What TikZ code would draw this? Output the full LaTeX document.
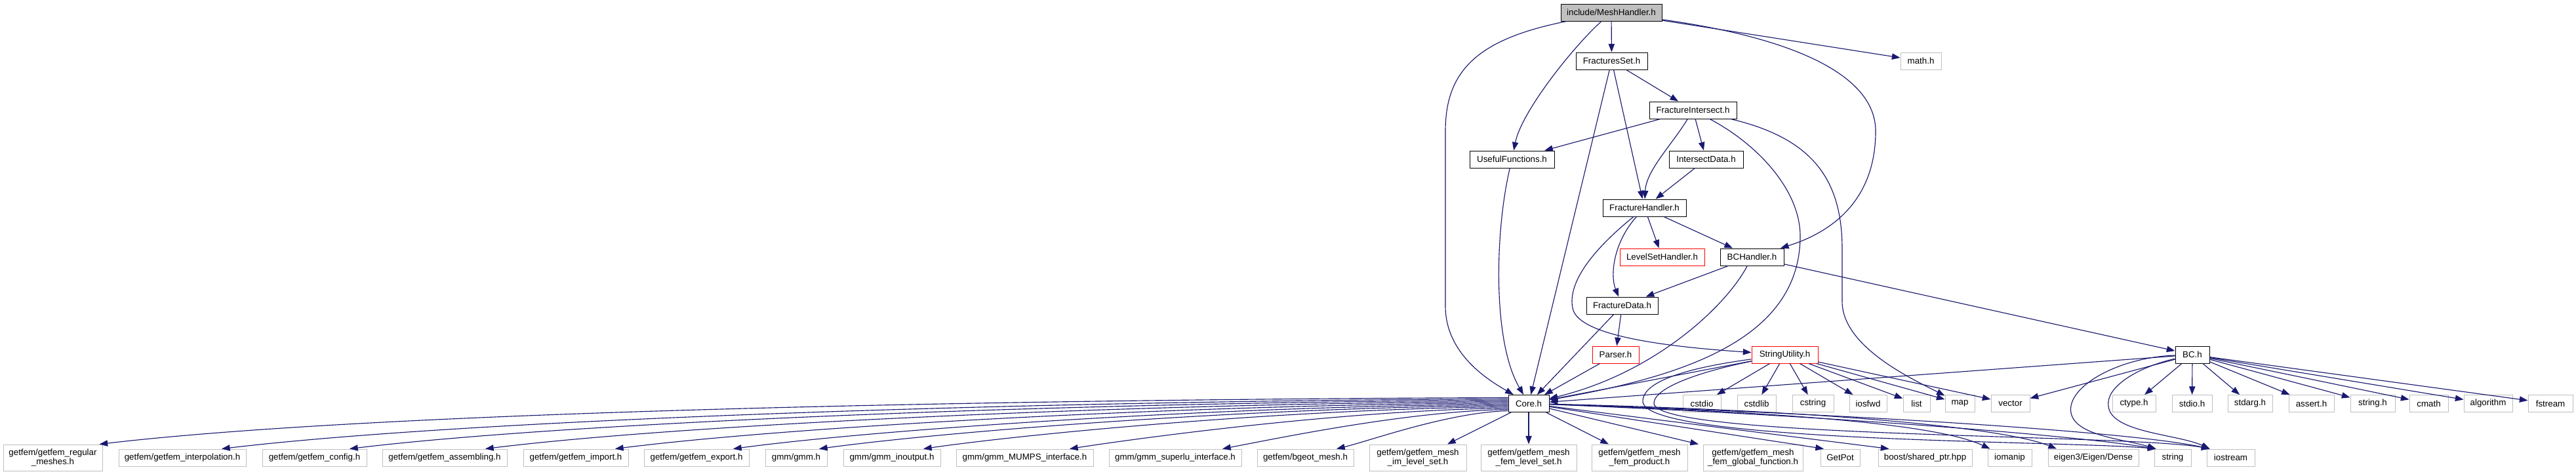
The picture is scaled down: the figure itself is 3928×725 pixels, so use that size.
\documentclass[tikz,border=0pt]{standalone}
\usepackage{fontspec}
\setmainfont{Liberation Sans}
\usetikzlibrary{arrows.meta,calc}
\definecolor{edgeblue}{HTML}{191970}
\definecolor{extgray}{HTML}{BFBFBF}
\tikzset{
  nb/.style={rectangle, inner sep=1pt, font=\fontsize{10}{11}\selectfont, align=center, fill=white, line width=0.75pt},
  docbox/.style={nb, draw=black},
  extbox/.style={nb, draw=extgray},
  redbox/.style={nb, draw=red},
  rootbox/.style={nb, draw=black, fill=extgray},
  sz/.style 2 args={minimum width=#1*0.75pt, minimum height=#2*0.75pt},
  edge/.style={draw=edgeblue, line width=0.85pt, -{Triangle[length=9.5pt,width=7pt]}},
}
\begin{document}
\begin{tikzpicture}[x=0.75pt,y=-0.75pt]
\fill[white] (0,0) rectangle (3928,725);
\useasboundingbox (0,0) rectangle (3928,725);

% ---- project headers
\node[rootbox, sz={154}{26}] (mesh) at (2457,19) {include/MeshHandler.h};
\node[docbox, sz={109}{26}] (fset) at (2457.5,93) {FracturesSet.h};
\node[extbox, sz={62}{26}] (math) at (2929,93) {math.h};
\node[docbox, sz={133}{26}] (fint) at (2581.5,168) {FractureIntersect.h};
\node[docbox, sz={129}{26}] (useful) at (2305.5,243) {UsefulFunctions.h};
\node[docbox, sz={113}{26}] (idata) at (2601.5,243) {IntersectData.h};
\node[docbox, sz={127}{26}] (fhand) at (2507.5,317) {FractureHandler.h};
\node[redbox, sz={129}{26}] (lset) at (2534.5,392) {LevelSetHandler.h};
\node[docbox, sz={97}{26}] (bch) at (2671.5,392) {BCHandler.h};
\node[docbox, sz={109}{26}] (fdata) at (2473.5,466) {FractureData.h};
\node[redbox, sz={71}{26}] (parser) at (2463.5,541) {Parser.h};
\node[redbox, sz={101}{26}] (sutil) at (2721.5,541) {StringUtility.h};
\node[docbox, sz={52}{26}] (bc) at (3343,541) {BC.h};
\node[docbox, sz={62}{26}] (core) at (2331,615.5) {Core.h};

% ---- system headers, middle row
\node[extbox, sz={58}{26}] (cstdio) at (2595,615.5) {cstdio};
\node[extbox, sz={59}{26}] (cstdlib) at (2678.5,615.5) {cstdlib};
\node[extbox, sz={63}{26}] (cstring) at (2764.5,615.5) {cstring};
\node[extbox, sz={57}{26}] (iosfwd) at (2848.5,615.5) {iosfwd};
\node[extbox, sz={41}{26}] (list) at (2922.5,615.5) {list};
\node[extbox, sz={45}{26}] (map) at (2988.5,615.5) {map};
\node[extbox, sz={59}{26}] (vector) at (3065.5,615.5) {vector};
\node[extbox, sz={66}{26}] (ctype) at (3254,615.5) {ctype.h};
\node[extbox, sz={61}{26}] (stdio) at (3342.5,615.5) {stdio.h};
\node[extbox, sz={68}{26}] (stdarg) at (3431,615.5) {stdarg.h};
\node[extbox, sz={69}{26}] (assert) at (3524.5,615.5) {assert.h};
\node[extbox, sz={68}{26}] (stringh) at (3618,615.5) {string.h};
\node[extbox, sz={59}{26}] (cmath) at (3703.5,615.5) {cmath};
\node[extbox, sz={74}{26}] (algorithm) at (3794,615.5) {algorithm};
\node[extbox, sz={68}{26}] (fstream) at (3889,615.5) {fstream};

% ---- bottom row
\node[extbox, sz={151}{40}] (regmesh) at (80.5,698) {getfem/getfem\_regular\\\_meshes.h};
\node[extbox, sz={194}{26}] (interp) at (278,698) {getfem/getfem\_interpolation.h};
\node[extbox, sz={159}{26}] (config) at (479.5,698) {getfem/getfem\_config.h};
\node[extbox, sz={190}{26}] (assem) at (678,698) {getfem/getfem\_assembling.h};
\node[extbox, sz={160}{26}] (import) at (878,698) {getfem/getfem\_import.h};
\node[extbox, sz={160}{26}] (export) at (1062,698) {getfem/getfem\_export.h};
\node[extbox, sz={94}{26}] (gmm) at (1214,698) {gmm/gmm.h};
\node[extbox, sz={148}{26}] (inout) at (1360,698) {gmm/gmm\_inoutput.h};
\node[extbox, sz={209}{26}] (mumps) at (1562.5,698) {gmm/gmm\_MUMPS\_interface.h};
\node[extbox, sz={202}{26}] (superlu) at (1792,698) {gmm/gmm\_superlu\_interface.h};
\node[extbox, sz={147}{26}] (bgeot) at (1990.5,698) {getfem/bgeot\_mesh.h};
\node[extbox, sz={148}{40}] (imls) at (2162,698) {getfem/getfem\_mesh\\\_im\_level\_set.h};
\node[extbox, sz={146}{40}] (femls) at (2331,698) {getfem/getfem\_mesh\\\_fem\_level\_set.h};
\node[extbox, sz={146}{40}] (femprod) at (2500,698) {getfem/getfem\_mesh\\\_fem\_product.h};
\node[extbox, sz={152}{40}] (femglob) at (2673,698) {getfem/getfem\_mesh\\\_fem\_global\_function.h};
\node[extbox, sz={60}{26}] (getpot) at (2806,698) {GetPot};
\node[extbox, sz={143}{26}] (boost) at (2935.5,698) {boost/shared\_ptr.hpp};
\node[extbox, sz={67}{26}] (iomanip) at (3064.5,698) {iomanip};
\node[extbox, sz={138}{26}] (eigen) at (3192,698) {eigen3/Eigen/Dense};
\node[extbox, sz={56}{26}] (string) at (3313,698) {string};
\node[extbox, sz={73}{26}] (iostream) at (3401.5,698) {iostream};

% ---- edges from MeshHandler
\draw[edge] (mesh) -- (fset);
\draw[edge] (mesh) -- (math);
\draw[edge] (mesh) .. controls (2400,70) and (2320,170) .. (useful);
\draw[edge] (mesh) .. controls (2250,60) and (2204,110) .. (2204,200) -- (2204,467) .. controls (2204,540) and (2270,580) .. (core);
\draw[edge] (mesh) .. controls (2750,60) and (2860,120) .. (2860,200) .. controls (2860,300) and (2800,352) .. (bch);

% ---- FracturesSet
\draw[edge] (fset) -- (fint);
\draw[edge] (fset) -- (core);
\draw[edge] (fset) -- (fhand);

% ---- FractureIntersect
\draw[edge] (fint) -- (useful);
\draw[edge] (fint) -- (idata);
\draw[edge] (fint) .. controls (2550,220) and (2510,260) .. (fhand);
\draw[edge] (fint) .. controls (2680,220) and (2745,290) .. (2745,360) .. controls (2745,520) and (2560,575) .. (core);
\draw[edge] (fint) .. controls (2760,210) and (2809,270) .. (2809,380) -- (2809,460) .. controls (2809,530) and (2920,580) .. (map);
\draw[edge] (idata) -- (fhand);
\draw[edge] (useful) .. controls (2280,350) and (2275,520) .. (core);

% ---- FractureHandler
\draw[edge] (fhand) -- (lset);
\draw[edge] (fhand) -- (bch);
\draw[edge] (fhand) .. controls (2460,370) and (2455,420) .. (fdata);
\draw[edge] (fhand) .. controls (2430,380) and (2390,430) .. (2398,470) .. controls (2406,515) and (2560,530) .. (sutil);

% ---- BCHandler, FractureData, Parser
\draw[edge] (bch) -- (fdata);
\draw[edge] (bch) .. controls (2630,470) and (2520,570) .. (core);
\draw[edge] (bch) -- (bc);
\draw[edge] (fdata) -- (parser);
\draw[edge] (fdata) -- (core);
\draw[edge] (parser) -- (core);

% ---- StringUtility
\draw[edge] (sutil) -- (core);
\foreach \nn in {cstdio,cstdlib,cstring,iosfwd,list,map,vector} \draw[edge] (sutil) -- (\nn);
\draw[edge] (sutil) .. controls (2580,560) and (2505,580) .. (2505,612) .. controls (2505,675) and (3150,672) .. ($(string.north west)+(3,0)$);
\draw[edge] (sutil) .. controls (2600,565) and (2522,590) .. (2522,615) .. controls (2522,668) and (3250,662) .. ($(iostream.north west)+(5,0)$);

% ---- BC.h
\draw[edge] (bc) -- (core);
\foreach \nn in {vector,ctype,stdio,stdarg,assert,stringh,cmath,algorithm,fstream} \draw[edge] (bc) -- (\nn);
\draw[edge] (bc) .. controls (3230,545) and (3150,590) .. (3158,630) .. controls (3165,665) and (3240,670) .. ($(string.north west)+(3,0)$);
\draw[edge] (bc) .. controls (3260,560) and (3210,590) .. (3215,620) .. controls (3220,660) and (3320,662) .. ($(iostream.north west)+(5,0)$);

% ---- Core.h to bottom row
\draw[edge] ($(core.west)+(0,-9)$) .. controls (1548,609) and (582,627) .. ($(regmesh.north)+(71,0)$);
\draw[edge] ($(core.west)+(0,-7)$) .. controls (1613,611) and (730,638) .. ($(interp.north)+(60,0)$);
\draw[edge] ($(core.west)+(0,-5)$) .. controls (1682,613) and (886,642) .. ($(config.north)+(53.5,0)$);
\draw[edge] ($(core.west)+(0,-3)$) .. controls (1754,615) and (1052,646) .. ($(assem.north)+(62,0)$);
\draw[edge] ($(core.west)+(0,-1)$) .. controls (1823,617) and (1210,650) .. ($(import.north)+(60,0)$);
\draw[edge] ($(core.west)+(0,1)$) .. controls (1886,619) and (1354,653) .. ($(export.north)+(56,0)$);
\draw[edge] ($(core.west)+(0,3)$) .. controls (1932,621) and (1459,656) .. ($(gmm.north)+(35,0)$);
\draw[edge] ($(core.west)+(0,5)$) .. controls (1988,623) and (1586,659) .. ($(inout.north)+(48,0)$);
\draw[edge] ($(core.west)+(0,7)$) .. controls (2066,625) and (1765,664) .. ($(mumps.north)+(68.5,0)$);
\draw[edge] ($(core.west)+(0,9)$) .. controls (2147,627) and (1951,668) .. ($(superlu.north)+(72,0)$);
\draw[edge] ($(core.west)+(0,11)$) .. controls (2208,629) and (2090,672) .. ($(bgeot.north)+(47.5,0)$);
\draw[edge] (core) -- ($(imls.north)+(45,0)$);
\draw[edge] (core) -- (femls);
\draw[edge] (core) -- ($(femprod.north)+(-47,0)$);
\draw[edge] (core) -- ($(femglob.north)+(-83,0)$);
\draw[edge] (core) -- ($(getpot.north)+(-25,0)$);
\draw[edge] (core) -- ($(boost.north)+(-55,0)$);
\draw[edge] (core) .. controls (2700,628) and (2950,645) .. ($(iomanip.north)+(-30,0)$);
\draw[edge] (core) .. controls (2750,625) and (3050,650) .. ($(eigen.north)+(-56,0)$);
\draw[edge] (core) .. controls (2750,632) and (3150,662) .. ($(string.north west)+(3,0)$);
\draw[edge] (core) .. controls (2800,630) and (3250,658) .. ($(iostream.north west)+(5,0)$);
\end{tikzpicture}
\end{document}
